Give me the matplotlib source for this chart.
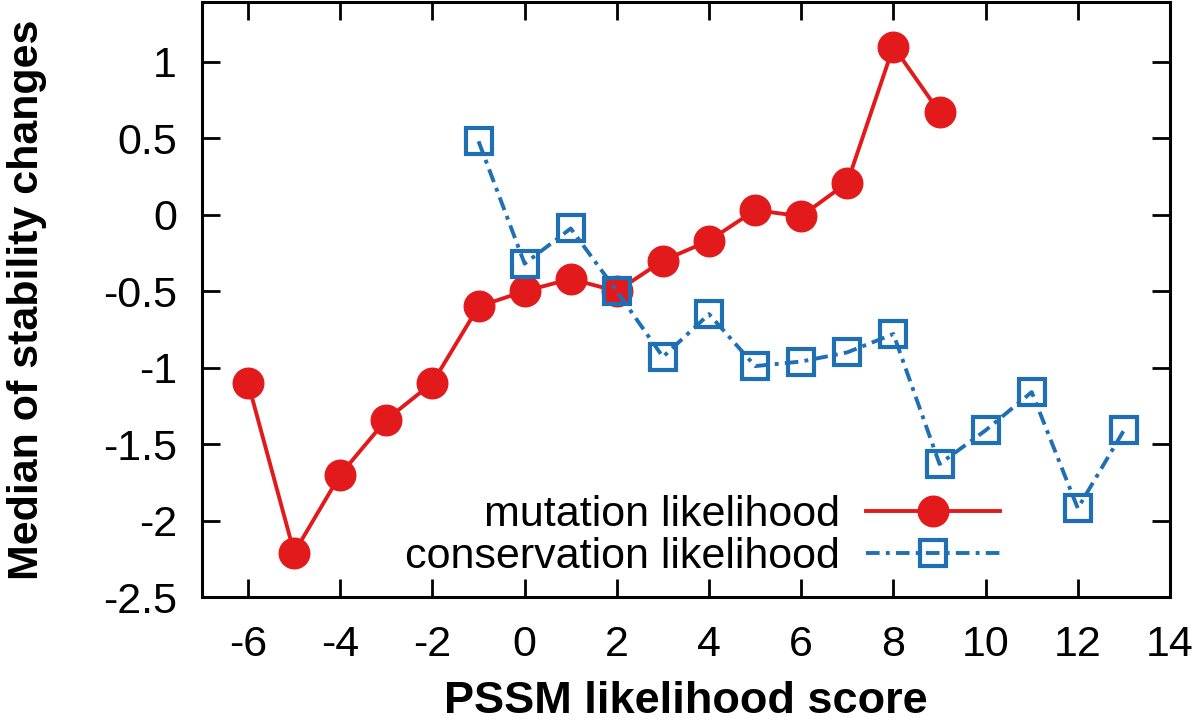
import matplotlib
matplotlib.use("Agg")
import matplotlib.pyplot as plt

# ── Data ────────────────────────────────────────────────────────────────
mut_x = [-6, -5, -4, -3, -2, -1, 0, 1, 2, 3, 4, 5, 6, 7, 8, 9]
mut_y = [-1.10, -2.21, -1.70, -1.34, -1.10, -0.60, -0.50, -0.42,
         -0.50, -0.30, -0.17, 0.03, -0.01, 0.21, 1.10, 0.67]

con_x = [-1, 0, 1, 2, 3, 4, 5, 6, 7, 8, 9, 10, 11, 12, 13]
con_y = [0.48, -0.32, -0.09, -0.50, -0.93, -0.65, -0.99, -0.96,
         -0.90, -0.78, -1.63, -1.41, -1.16, -1.92, -1.41]

x_ticks = [-6, -4, -2, 0, 2, 4, 6, 8, 10, 12, 14]
y_ticks = [-2.5, -2, -1.5, -1, -0.5, 0, 0.5, 1]
y_labels = ['-2.5', '-2', '-1.5', '-1', '-0.5', '0', '0.5', '1']

RED = '#e31a1c'
BLUE = '#1f6fb5'

plt.rcParams['font.family'] = ['Liberation Sans', 'DejaVu Sans']

fig = plt.figure(figsize=(12, 7.24), dpi=100)
ax = fig.add_axes([0.1683, 0.1754, 0.8067, 0.8216])

# gnuplot draws the second series on top of the first
ax.plot(mut_x, mut_y, color=RED, lw=2.8, marker='o', ms=22,
        mec=RED, mfc=RED, label='mutation likelihood', zorder=2)
ax.plot(con_x, con_y, color=BLUE, lw=2.8, marker='s', ms=19,
        mec=BLUE, mfc='none', mew=3, dashes=(3.5, 1.6, 1, 1.6),
        label='conservation likelihood', zorder=3)

ax.set_xlim(-7, 14)
ax.set_ylim(-2.5, 1.39)
ax.set_xticks(x_ticks)
ax.set_xticklabels([str(t) for t in x_ticks])
ax.set_yticks(y_ticks)
ax.set_yticklabels(y_labels)

ax.tick_params(direction='in', length=13, width=2, labelsize=31,
               top=True, right=True)
ax.tick_params(axis='x', pad=20)
ax.tick_params(axis='y', pad=18)
for s in ax.spines.values():
    s.set_linewidth(2.2)

ax.set_xlabel('PSSM likelihood score', fontsize=32.5, fontweight='bold',
              labelpad=12)
ax.set_ylabel('Median of stability changes', fontsize=31, fontweight='bold',
              labelpad=40)

ax.legend(loc='center right', bbox_to_anchor=(0.824, 0.103), frameon=False,
          markerfirst=False, fontsize=31, handlelength=3.1,
          handletextpad=0.6, labelspacing=0.05, borderpad=0, borderaxespad=0)

fig.savefig('out.png', dpi=100)
